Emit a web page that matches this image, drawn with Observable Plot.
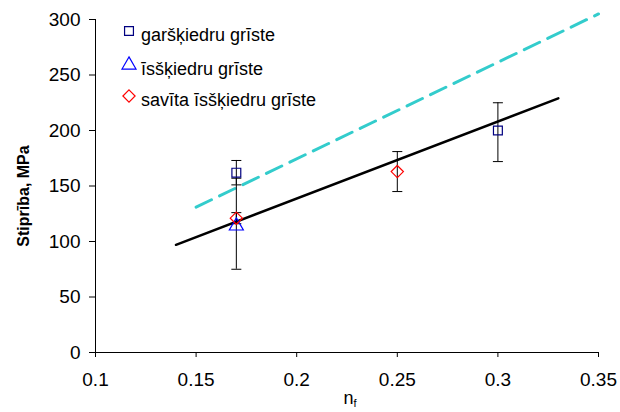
<!DOCTYPE html>
<html>
<head>
<meta charset="utf-8">
<script src="https://cdn.jsdelivr.net/npm/d3@7"></script>
<script src="https://cdn.jsdelivr.net/npm/@observablehq/plot@0.6"></script>
<style>
  html, body { margin: 0; padding: 0; background: #fff; }
  #chart { position: relative; width: 620px; height: 412px; }
</style>
</head>
<body>
<div id="chart"></div>
<script>
// ---- data ----
const xTicks = [0.1, 0.15, 0.2, 0.25, 0.3, 0.35];
const xTickLabels = ["0.1", "0.15", "0.2", "0.25", "0.3", "0.35"];
const yTicks = [0, 50, 100, 150, 200, 250, 300];

const seriesNames = ["garšķiedru grīste", "īsšķiedru grīste", "savīta īsšķiedru grīste"];

const sqX = [0.17, 0.30];
const sqY = [162, 200];
const sqLo = [151, 172];
const sqHi = [173, 225];

const triX = [0.17];
const triY = [114];
const triLo = [75];
const triHi = [157];

const diaX = [0.17, 0.25];
const diaY = [121, 163];
const diaLo = [116, 145];
const diaHi = [126, 181];

const fitX = [0.14, 0.33];
const fitY = [97, 229];
const upperX = [0.15, 0.35];
const upperY = [131, 305];

// ---- tables ----
const mk = (xs, ys, lo, hi) => xs.map((x, i) => ({x, y: ys[i], lo: lo[i], hi: hi[i]}));
const sq = mk(sqX, sqY, sqLo, sqHi);
const tri = mk(triX, triY, triLo, triHi);
const dia = mk(diaX, diaY, diaLo, diaHi);
const allPts = [...sq, ...tri, ...dia];
const fit = fitX.map((x, i) => ({x, y: fitY[i]}));
const upper = upperX.map((x, i) => ({x, y: upperY[i]}));

const capSymbol = {
  draw(context, size) {
    const r = Math.sqrt(size / Math.PI);
    context.moveTo(-r, 0);
    context.lineTo(r, 0);
  }
};

const font = "'Liberation Sans', Arial, sans-serif";

const plot = Plot.plot({
  width: 620,
  height: 412,
  marginLeft: 95,
  marginRight: 22,
  marginTop: 19,
  marginBottom: 60,
  style: {fontFamily: font, fontSize: "19px", color: "#000", background: "#fff", overflow: "visible"},
  x: {domain: [0.1, 0.35]},
  y: {domain: [0, 300]},
  marks: [
    Plot.axisX({ticks: xTicks, tickFormat: (d, i) => xTickLabels[i], tickSize: 5, tickPadding: 15, label: null, fontSize: 19}),
    Plot.axisY({ticks: yTicks, tickSize: 6, tickPadding: 9, label: null, fontSize: 19}),
    Plot.ruleX([0.1], {stroke: "#000", strokeWidth: 1}),
    Plot.ruleY([0], {stroke: "#000", strokeWidth: 1}),
    Plot.line(upper, {x: "x", y: "y", stroke: "#33cccc", strokeWidth: 3, strokeDasharray: "17,9", clip: false}),
    Plot.line(fit, {x: "x", y: "y", stroke: "#000", strokeWidth: 2.5}),
    Plot.ruleX(allPts, {x: "x", y1: "lo", y2: "hi", stroke: "#000", strokeWidth: 1}),
    Plot.dot(allPts, {x: "x", y: "lo", symbol: capSymbol, r: 5, stroke: "#000", strokeWidth: 1}),
    Plot.dot(allPts, {x: "x", y: "hi", symbol: capSymbol, r: 5, stroke: "#000", strokeWidth: 1}),
    Plot.dot(sq, {x: "x", y: "y", symbol: "square", r: 5, stroke: "#000080", strokeWidth: 1.2, fill: "none"}),
    Plot.dot(tri, {x: "x", y: "y", symbol: "triangle", r: 5.2, stroke: "#0000ff", strokeWidth: 1.2, fill: "none"}),
    Plot.dot(dia, {x: "x", y: "y", symbol: "diamond2", r: 5.5, stroke: "#ff0000", strokeWidth: 1.2, fill: "none"})
  ]
});

document.getElementById("chart").appendChild(plot);

// ---- titles and legend ----
const svg = d3.select(plot);

svg.append("text")
  .attr("transform", "translate(29,196) rotate(-90)")
  .attr("text-anchor", "middle")
  .attr("font-family", font)
  .attr("font-size", 16)
  .attr("font-weight", "bold")
  .attr("fill", "#000")
  .text("Stiprība, MPa");

const xl = svg.append("text")
  .attr("x", 350)
  .attr("y", 404)
  .attr("text-anchor", "middle")
  .attr("font-family", font)
  .attr("font-size", 18)
  .attr("fill", "#000");
xl.append("tspan").text("n");
xl.append("tspan").attr("font-size", 11).attr("dy", 3).text("f");

const legendSymbols = ["square", "triangle", "diamond2"];
const legendColors = ["#000080", "#0000ff", "#ff0000"];
const legendSizes = [5, 5.2, 5.5];
const legendRowY = [31, 65, 96];
const symMap = {square: d3.symbolSquare, triangle: d3.symbolTriangle, diamond2: d3.symbolDiamond2};
const lg = svg.append("g").attr("text-anchor", "start");
seriesNames.forEach((name, i) => {
  const r = legendSizes[i];
  lg.append("path")
    .attr("transform", `translate(129,${legendRowY[i]})`)
    .attr("d", d3.symbol(symMap[legendSymbols[i]], Math.PI * r * r)())
    .attr("fill", "none")
    .attr("stroke", legendColors[i])
    .attr("stroke-width", 1.2);
  lg.append("text")
    .attr("x", 141)
    .attr("y", legendRowY[i] + 10)
    .attr("text-anchor", "start")
    .attr("font-family", font)
    .attr("font-size", 18)
    .attr("fill", "#000")
    .text(name);
});
</script>
</body>
</html>
